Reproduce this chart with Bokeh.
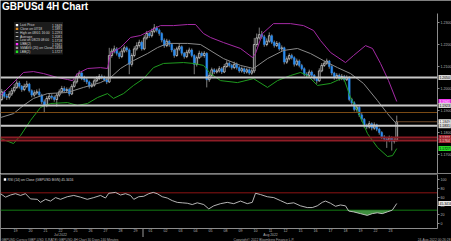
import numpy as np
from bokeh.plotting import figure
from bokeh.layouts import column
from bokeh.models import (Range1d, LinearAxis, FixedTicker, Label, BoxAnnotation,
                          NumeralTickFormatter, ColumnDataSource)
from bokeh.embed import file_html
from bokeh.resources import INLINE

# ---------------- data (4H bars, bar 0 = 18 Jul 2022 00:00) ----------------
bar_open = [
    1.1870, 1.1880, 1.1905, 1.1950, 1.1985, 1.1965,  # Jul 18
    1.1960, 1.1975, 1.1990, 1.2005, 1.2025, 1.2010,  # Jul 19
    1.1995, 1.2010, 1.2020, 1.1990, 1.1970, 1.1980,  # Jul 20
    1.1985, 1.1970, 1.1940, 1.1925, 1.1955, 1.1965,  # Jul 21
    1.1960, 1.1950, 1.1970, 1.1985, 1.2000, 1.1990,  # Jul 22
    1.1995, 1.1975, 1.2010, 1.2030, 1.2055, 1.2070,  # Jul 25
    1.2045, 1.2040, 1.2030, 1.2010, 1.2015, 1.2035,  # Jul 26
    1.2045, 1.2055, 1.2050, 1.2040, 1.2030, 1.2150,  # Jul 27
    1.2170, 1.2180, 1.2160, 1.2145, 1.2170, 1.2185,  # Jul 28
    1.2175, 1.2110, 1.2150, 1.2180, 1.2195, 1.2210,  # Jul 29
    1.2180, 1.2230, 1.2250, 1.2240, 1.2260, 1.2275,  # Aug 1
    1.2265, 1.2250, 1.2220, 1.2195, 1.2215, 1.2200,  # Aug 2
    1.2175, 1.2150, 1.2180, 1.2190, 1.2160, 1.2145,  # Aug 3
    1.2165, 1.2175, 1.2150, 1.2110, 1.2140, 1.2160,  # Aug 4
    1.2150, 1.2160, 1.2040, 1.2060, 1.2085, 1.2075,  # Aug 5
    1.2080, 1.2090, 1.2075, 1.2100, 1.2115, 1.2105,  # Aug 8
    1.2095, 1.2110, 1.2095, 1.2080, 1.2090, 1.2075,  # Aug 9
    1.2085, 1.2070, 1.2080, 1.2200, 1.2230, 1.2245,  # Aug 10
    1.2235, 1.2200, 1.2215, 1.2240, 1.2210, 1.2195,  # Aug 11
    1.2205, 1.2180, 1.2185, 1.2120, 1.2135, 1.2150,  # Aug 12
    1.2140, 1.2110, 1.2125, 1.2105, 1.2090, 1.2065,  # Aug 15
    1.2060, 1.2075, 1.2060, 1.2045, 1.2035, 1.2080,  # Aug 16
    1.2105, 1.2115, 1.2125, 1.2100, 1.2070, 1.2050,  # Aug 17
    1.2060, 1.2045, 1.2055, 1.2040, 1.2050, 1.1950,  # Aug 18
    1.1935, 1.1905, 1.1915, 1.1880, 1.1860, 1.1830,  # Aug 19
    1.1825, 1.1840, 1.1820, 1.1835, 1.1815, 1.1800,  # Aug 22
    1.1780, 1.1770, 1.1765, 1.1775, 1.1760, 1.1765,  # Aug 23
]
bar_close = [
    1.1880, 1.1905, 1.1950, 1.1985, 1.1965, 1.1960,
    1.1975, 1.1990, 1.2005, 1.2025, 1.2010, 1.1995,
    1.2010, 1.2020, 1.1990, 1.1970, 1.1980, 1.1985,
    1.1970, 1.1940, 1.1925, 1.1955, 1.1965, 1.1960,
    1.1950, 1.1970, 1.1985, 1.2000, 1.1990, 1.1995,
    1.1975, 1.2010, 1.2030, 1.2055, 1.2070, 1.2045,
    1.2040, 1.2030, 1.2010, 1.2015, 1.2035, 1.2045,
    1.2055, 1.2050, 1.2040, 1.2030, 1.2150, 1.2170,
    1.2180, 1.2160, 1.2145, 1.2170, 1.2185, 1.2175,
    1.2110, 1.2150, 1.2180, 1.2195, 1.2210, 1.2180,
    1.2230, 1.2250, 1.2240, 1.2260, 1.2275, 1.2265,
    1.2250, 1.2220, 1.2195, 1.2215, 1.2200, 1.2175,
    1.2150, 1.2180, 1.2190, 1.2160, 1.2145, 1.2165,
    1.2175, 1.2150, 1.2110, 1.2140, 1.2160, 1.2150,
    1.2160, 1.2040, 1.2060, 1.2085, 1.2075, 1.2080,
    1.2090, 1.2075, 1.2100, 1.2115, 1.2105, 1.2095,
    1.2110, 1.2095, 1.2080, 1.2090, 1.2075, 1.2085,
    1.2070, 1.2080, 1.2200, 1.2230, 1.2245, 1.2235,
    1.2200, 1.2215, 1.2240, 1.2210, 1.2195, 1.2205,
    1.2180, 1.2185, 1.2120, 1.2135, 1.2150, 1.2140,
    1.2110, 1.2125, 1.2105, 1.2090, 1.2065, 1.2060,
    1.2075, 1.2060, 1.2045, 1.2035, 1.2080, 1.2105,
    1.2115, 1.2125, 1.2100, 1.2070, 1.2050, 1.2060,
    1.2045, 1.2055, 1.2040, 1.2050, 1.1950, 1.1935,
    1.1905, 1.1915, 1.1880, 1.1860, 1.1830, 1.1825,
    1.1840, 1.1820, 1.1835, 1.1815, 1.1800, 1.1780,
    1.1770, 1.1765, 1.1775, 1.1760, 1.1765, 1.1849,
]
bar_high = [
    1.1895, 1.1915, 1.1962, 1.1998, 1.1992, 1.1975,
    1.1988, 1.2002, 1.2020, 1.2038, 1.2034, 1.2016,
    1.2022, 1.2035, 1.2026, 1.1996, 1.1992, 1.1996,
    1.2000, 1.1976, 1.1950, 1.1966, 1.1978, 1.1974,
    1.1968, 1.1980, 1.1996, 1.2012, 1.2010, 1.2005,
    1.2004, 1.2020, 1.2042, 1.2068, 1.2082, 1.2076,
    1.2058, 1.2048, 1.2036, 1.2026, 1.2046, 1.2056,
    1.2066, 1.2064, 1.2058, 1.2048, 1.2185, 1.2182,
    1.2195, 1.2188, 1.2168, 1.2182, 1.2196, 1.2192,
    1.2182, 1.2160, 1.2192, 1.2210, 1.2222, 1.2218,
    1.2242, 1.2262, 1.2258, 1.2272, 1.2293, 1.2284,
    1.2272, 1.2256, 1.2228, 1.2226, 1.2222, 1.2206,
    1.2182, 1.2190, 1.2202, 1.2196, 1.2166, 1.2176,
    1.2186, 1.2182, 1.2156, 1.2150, 1.2172, 1.2168,
    1.2170, 1.2165, 1.2072, 1.2095, 1.2092, 1.2090,
    1.2102, 1.2098, 1.2112, 1.2128, 1.2124, 1.2112,
    1.2122, 1.2118, 1.2102, 1.2100, 1.2096, 1.2094,
    1.2092, 1.2090, 1.2230, 1.2250, 1.2277, 1.2262,
    1.2244, 1.2228, 1.2255, 1.2246, 1.2218, 1.2216,
    1.2212, 1.2196, 1.2190, 1.2146, 1.2160, 1.2158,
    1.2146, 1.2136, 1.2132, 1.2112, 1.2096, 1.2074,
    1.2086, 1.2082, 1.2066, 1.2052, 1.2092, 1.2116,
    1.2126, 1.2136, 1.2130, 1.2106, 1.2076, 1.2070,
    1.2068, 1.2066, 1.2062, 1.2060, 1.2056, 1.1958,
    1.1942, 1.1926, 1.1920, 1.1888, 1.1866, 1.1840,
    1.1852, 1.1846, 1.1846, 1.1840, 1.1822, 1.1806,
    1.1788, 1.1780, 1.1786, 1.1782, 1.1776, 1.1877,
]
bar_low = [
    1.1860, 1.1872, 1.1898, 1.1942, 1.1955, 1.1948,
    1.1950, 1.1966, 1.1982, 1.1998, 1.2000, 1.1985,
    1.1988, 1.2002, 1.1982, 1.1960, 1.1962, 1.1972,
    1.1962, 1.1930, 1.1890, 1.1915, 1.1946, 1.1950,
    1.1940, 1.1918, 1.1962, 1.1978, 1.1982, 1.1984,
    1.1965, 1.1970, 1.2004, 1.2022, 1.2048, 1.2038,
    1.2030, 1.2020, 1.2000, 1.2004, 1.2008, 1.2028,
    1.2038, 1.2042, 1.2032, 1.2020, 1.2025, 1.2140,
    1.2160, 1.2150, 1.2135, 1.2138, 1.2162, 1.2165,
    1.2065, 1.2100, 1.2142, 1.2172, 1.2186, 1.2172,
    1.2174, 1.2222, 1.2230, 1.2232, 1.2252, 1.2255,
    1.2240, 1.2210, 1.2185, 1.2188, 1.2190, 1.2165,
    1.2140, 1.2144, 1.2172, 1.2150, 1.2136, 1.2138,
    1.2158, 1.2142, 1.2065, 1.2100, 1.2134, 1.2142,
    1.2140, 1.2005, 1.2030, 1.2052, 1.2066, 1.2068,
    1.2072, 1.2066, 1.2070, 1.2094, 1.2096, 1.2086,
    1.2088, 1.2086, 1.2072, 1.2072, 1.2066, 1.2068,
    1.2062, 1.2062, 1.2070, 1.2190, 1.2222, 1.2226,
    1.2190, 1.2192, 1.2208, 1.2202, 1.2186, 1.2188,
    1.2172, 1.2170, 1.2110, 1.2112, 1.2128, 1.2132,
    1.2100, 1.2102, 1.2096, 1.2082, 1.2056, 1.2050,
    1.2052, 1.2050, 1.2036, 1.2022, 1.2030, 1.2074,
    1.2098, 1.2108, 1.2090, 1.2060, 1.2040, 1.2042,
    1.2036, 1.2038, 1.2032, 1.2034, 1.1942, 1.1925,
    1.1896, 1.1895, 1.1870, 1.1850, 1.1820, 1.1815,
    1.1818, 1.1810, 1.1812, 1.1806, 1.1790, 1.1770,
    1.1760, 1.1730, 1.1756, 1.1718, 1.1750, 1.1758,
]

# Bollinger bands (x = bar index)
ubb_x = [2.5, 7.3, 11.7, 15.7, 19.7, 25.3, 29.3, 31.3, 33.3, 37.3, 42.5, 45.3, 46.5, 50.5,
         54.5, 58.5, 62.5, 66.5, 71.7, 77.3, 80.5, 83.7, 86.5, 91.7, 98.5, 103.3, 104.5,
         107.3, 111.7, 118.5, 123.7, 127.7, 130.5, 134.5, 140.5, 143.7, 148.5, 151.3,
         154.5, 157.7, 161]
ubb_y = [1.1968, 1.2023, 1.2073, 1.2077, 1.2068, 1.2050, 1.2041, 1.2036, 1.2068, 1.2091,
         1.2095, 1.2091, 1.2159, 1.2186, 1.2232, 1.2241, 1.2264, 1.2286, 1.2286, 1.2291,
         1.2291, 1.2250, 1.2232, 1.2209, 1.2182, 1.2141, 1.2159, 1.2250, 1.2295, 1.2295,
         1.2286, 1.2264, 1.2218, 1.2164, 1.2118, 1.2150, 1.2195, 1.2182, 1.2114, 1.2036,
         1.1941]
sma_x = [2.5, 7.7, 11.7, 15.7, 21.3, 29.3, 35.7, 42.5, 46.5, 50.5, 55.7, 61.3, 65.3, 69.3,
         77.3, 82.5, 91.7, 98.5, 103.7, 109.3, 115.7, 121.3, 126.5, 131.7, 137.3, 142.5,
         147.7, 153.3, 157.3, 161]
sma_y = [1.1868, 1.1886, 1.1923, 1.1955, 1.1977, 1.1982, 1.2005, 1.2027, 1.2050, 1.2091,
         1.2127, 1.2159, 1.2186, 1.2205, 1.2205, 1.2200, 1.2136, 1.2105, 1.2091, 1.2136,
         1.2173, 1.2182, 1.2159, 1.2127, 1.2095, 1.2068, 1.2023, 1.1945, 1.1886, 1.1838]
lbb_x = [2.5, 4.5, 7.7, 10.5, 14.5, 18.5, 22.5, 29.3, 33.3, 37.3, 41.3, 45.3, 47.7, 51.7,
         55.7, 59.7, 63.7, 67.7, 75.7, 79.7, 83.7, 86.5, 90.5, 97.3, 103.7, 109.3, 113.3,
         118.5, 122.5, 125.3, 129.3, 134.5, 139.7, 142.5, 145.3, 149.3, 153.3, 157.3,
         159.3, 161]
lbb_y = [1.1773, 1.1764, 1.1750, 1.1786, 1.1855, 1.1914, 1.1932, 1.1936, 1.1923, 1.1932,
         1.1959, 1.1977, 1.1955, 1.1977, 1.2014, 1.2045, 1.2095, 1.2114, 1.2118, 1.2114,
         1.2105, 1.2068, 1.2036, 1.2027, 1.2045, 1.2005, 1.2036, 1.2059, 1.2073, 1.2059,
         1.2014, 1.2023, 1.2050, 1.1959, 1.1900, 1.1795, 1.1732, 1.1691, 1.1695, 1.1727]

# RSI(14)
rsi_x = [2.5, 4.5, 6.5, 8.5, 10.5, 12.5, 14.5, 17.2, 18.5, 20.5, 22.5, 24.5, 26.5, 29.2,
         31.8, 34.5, 37.2, 39.8, 42.5, 44.5, 45.8, 48.5, 50.5, 52.5, 54.5, 55.8, 57.8,
         59.8, 61.8, 63.6, 65.2, 67.2, 69.2, 71.2, 73.2, 75.2, 77.2, 79.2, 81.2, 83.8,
         85.8, 87.8, 90.5, 93.2, 95.8, 98.5, 101.2, 103.2, 104.5, 106.5, 109.2, 111.8,
         114.5, 117.2, 119.8, 122.5, 125.2, 127.2, 129.2, 131.2, 132.5, 134.5, 136.5,
         138.5, 140.5, 141.8, 143.8, 146.5, 149.2, 151.2, 153.2, 155.2, 157.2, 159.2, 161]
rsi_y = [68, 60, 65, 68, 64, 68, 56, 55, 48, 55, 51, 59, 55, 61, 64, 60, 55, 59, 64, 58,
         69, 71, 65, 68, 64, 55, 61, 62, 68, 71, 68, 61, 58, 52, 48, 47, 46, 43, 47, 43,
         33, 40, 45, 48, 45, 51, 45, 48, 69, 66, 61, 59, 52, 45, 47, 40, 36, 36, 40, 48,
         51, 46, 39, 42, 40, 28, 26, 22, 18, 22, 24, 22, 26, 30, 45.34]
rsi_last = "45.3416"
rsi_upper, rsi_lower = 70, 30

# horizontal levels
grey_levels = [1.2050, 1.1923, 1.1831]
close_ref_level = 1.1891
red_levels = [1.1777, 1.1764]

price_ticks = [1.17, 1.18, 1.19, 1.20, 1.21, 1.22, 1.23]
rsi_ticks = [0, 20, 40, 60, 80, 100]

day_labels = ["19", "20", "21", "22", "25", "26", "27", "28", "29", "01", "02", "03", "04",
              "05", "08", "09", "10", "11", "12", "15", "16", "17", "18", "19", "22", "23"]
day_ticks = [6 * k + 2.5 for k in range(1, len(day_labels) + 1)]
month_labels = ["Jul 2022", "Aug 2022"]
month_ticks = [26.5, 110.5]
month_break = 59.5

box_prices = [1.2050, 1.1941, 1.1923, 1.1849, 1.1831, 1.1777, 1.1764, 1.1727]
box_texts = ["1.2050", "1.1941", "1.1923", "1.1849", "1.1831", "1.1777", "1.1764", "1.1727"]
box_fill = ["#d4d4d4", "#f03cf0", "#d4d4d4", "#f2f2f2", "#d4d4d4", "#a52a34", "#a52a34", "#27d827"]
box_text = ["#000000", "#ffffff", "#000000", "#000000", "#000000", "#f4d0d0", "#f4d0d0", "#000000"]

legend_names = ["Last Price", "Close on 07/18", "High on 08/01 16:00", "Average",
                "Low on 08/23 08:00", "UBB(2)", "SMAVG (20) on Close", "LBB(2)"]
legend_values = ["1.1849", "1.1891", "1.2293", "1.2081", "1.1718", "1.1941", "1.1838", "1.1727"]
legend_swatch = ["#ffffff", "#e08a1e", "line", "line", "line", "#ff30ff", "#9a9a9a", "#22e022"]

title_text = "GBPUSd 4H Chart"
rsi_legend = "RSI (14) on Close (GBPUSD BGN) 45.3416"
footer_left = "GBPUSD Curncy (GBP-USD X-RATE) GBPUSD 4H Chart 30 Days 240 Minutes"
footer_mid = "Copyright\u00a9 2022 Bloomberg Finance L.P."
footer_right = "24-Aug-2022 00:26:28"

# ---------------- layout constants (pixels) ----------------
FONT = "Liberation Sans"
W = 451
AXIS_PX = 437                       # x pixel of the price / RSI axes
PX_PER_BAR = 2.5
x_start = 2.5
x_end = x_start + W / PX_PER_BAR
axis_x = x_start + AXIS_PX / PX_PER_BAR

MAIN_H = 173
MAIN_TOP = 13                        # pixel where the price axis begins
PX_PER_PRICE = 2200.0
price_at_top_axis = 1.2341
y_top = price_at_top_axis + MAIN_TOP / PX_PER_PRICE
y_bot = price_at_top_axis - (MAIN_H - MAIN_TOP) / PX_PER_PRICE

RSI_H = 68                           # rsi panel spans page y 173..241
RSI_PX = 0.434                       # pixels per RSI point
RSI_ZERO_LOCAL = 49.7                # local pixel of RSI 0
rsi_top = (RSI_ZERO_LOCAL) / RSI_PX
rsi_bot = -(RSI_H - RSI_ZERO_LOCAL) / RSI_PX
def rsi_at_page(Y):                  # data value at page pixel Y
    return (MAIN_H + RSI_ZERO_LOCAL - Y) / RSI_PX

BLUE = "#2b8cf0"
AXIS_C = "#8c8c8c"
TICK_TXT = "#b4b4b4"


def lab(text, x, y, size, color, align="left", bold=False, **kw):
    return Label(x=x, y=y, x_units="screen", y_units="screen", text=text, text_font=FONT,
                 text_font_size=f"{size}px", text_color=color, text_align=align,
                 text_baseline="middle", text_font_style="bold" if bold else "normal", **kw)


def style_axis(ax, size="3.6px"):
    ax.axis_line_color = AXIS_C
    ax.major_tick_line_color = AXIS_C
    ax.minor_tick_line_color = None
    ax.major_tick_out = 2
    ax.major_tick_in = 0
    ax.major_label_text_font = FONT
    ax.major_label_text_font_size = size
    ax.major_label_text_color = TICK_TXT
    ax.major_label_standoff = 1


def box(fig, l, r, t, b, color, h):
    # canvas (top-left origin) coordinates -> frame-relative screen units
    fig.add_layout(BoxAnnotation(left=l, right=r, top=h - t, bottom=h - b,
                                 left_units="screen", right_units="screen",
                                 top_units="screen", bottom_units="screen",
                                 fill_color=color, fill_alpha=1, line_color=None))


# ---------------- main price panel ----------------
p = figure(width=W, height=MAIN_H, x_range=Range1d(x_start, x_end),
           y_range=Range1d(y_bot, y_top), output_backend="svg", toolbar_location=None,
           x_axis_location=None, y_axis_location=None,
           background_fill_color="#000000", border_fill_color="#000000",
           outline_line_color=None, min_border=0)
p.grid.visible = False

o = np.array(bar_open)
c = np.array(bar_close)
idx = np.arange(len(bar_close))
up = c >= o
src_all = ColumnDataSource(dict(x=idx, h=bar_high, l=bar_low))
p.segment(x0="x", y0="h", x1="x", y1="l", source=src_all, line_color="#a0a0a0", line_width=0.8)
src_up = ColumnDataSource(dict(x=idx[up], top=np.maximum(o, c)[up], bottom=np.minimum(o, c)[up]))
src_dn = ColumnDataSource(dict(x=idx[~up], top=np.maximum(o, c)[~up], bottom=np.minimum(o, c)[~up]))
p.vbar(x="x", width=0.7, top="top", bottom="bottom", source=src_up,
       fill_color="#000000", line_color="#cfcfcf", line_width=0.8)
p.vbar(x="x", width=0.7, top="top", bottom="bottom", source=src_dn,
       fill_color=BLUE, line_color=BLUE, line_width=0.5)

p.line(sma_x, sma_y, line_color="#8a8a8a", line_width=1)
p.line(ubb_x, ubb_y, line_color="#a52aa5", line_width=1)
p.line(lbb_x, lbb_y, line_color="#1f9b1f", line_width=1)

n = len(grey_levels)
p.segment(x0=[x_start] * n, y0=grey_levels, x1=[axis_x] * n, y1=grey_levels,
          line_color="#c8c8c8", line_width=2)
p.segment(x0=[x_start], y0=[close_ref_level], x1=[axis_x], y1=[close_ref_level],
          line_color="#7a4a14", line_width=1)
n = len(red_levels)
p.segment(x0=[x_start] * n, y0=red_levels, x1=[axis_x] * n, y1=red_levels,
          line_color="#8e1d26", line_width=2)
p.segment(x0=[idx[-1]], y0=[bar_close[-1]], x1=[axis_x], y1=[bar_close[-1]],
          line_color="#6e4a2a", line_width=1)

ay = LinearAxis(fixed_location=axis_x, ticker=FixedTicker(ticks=price_ticks),
                formatter=NumeralTickFormatter(format="0.0000"),
                bounds=(y_bot, price_at_top_axis))
style_axis(ay)
p.add_layout(ay, "right")

for pr, tx, bg, fg in zip(box_prices, box_texts, box_fill, box_text):
    p.add_layout(Label(x=axis_x, y=pr, x_units="data", y_units="data", text=tx, x_offset=1,
                       text_font=FONT, text_font_size="3.4px", text_color=fg,
                       text_baseline="middle", text_align="left",
                       background_fill_color=bg, padding=1))

p.add_layout(lab(title_text, 1.5, MAIN_H - 6.3, 10, "#ffffff", bold=True))

box(p, 13.5, 62.5, 21.5, 54, "#1c1c1c", MAIN_H)
row_y = [24.6, 28.4, 32.2, 36.0, 39.8, 43.6, 47.4, 51.2]
for Y, name, val, sw in zip(row_y, legend_names, legend_values, legend_swatch):
    if sw == "line":
        box(p, 15.2, 17.8, Y - 0.4, Y + 0.4, "#bdbdbd", MAIN_H)
    else:
        box(p, 15.3, 17.7, Y - 1.2, Y + 1.2, sw, MAIN_H)
    p.add_layout(lab(name, 19.5, MAIN_H - Y, 3.3, "#d2d2d2"))
    p.add_layout(lab(val, 61.5, MAIN_H - Y, 3.3, "#d2d2d2", align="right"))

# ---------------- RSI panel (page y 173..241) ----------------
r = figure(width=W, height=RSI_H, x_range=p.x_range, y_range=Range1d(rsi_bot, rsi_top),
           output_backend="svg", toolbar_location=None, x_axis_location=None,
           y_axis_location=None, background_fill_color="#000000",
           border_fill_color="#000000", outline_line_color=None, min_border=0)
r.grid.visible = False

y_sep = rsi_at_page(173.6)
y_axis_line = rsi_at_page(228)
r.segment(x0=[x_start], y0=[y_sep], x1=[axis_x], y1=[y_sep], line_color="#7c7c7c", line_width=1.2)
r.segment(x0=[x_start, x_start], y0=[rsi_upper, rsi_lower], x1=[axis_x, axis_x],
          y1=[rsi_upper, rsi_lower], line_color=["#8c1414", "#127a12"], line_width=1)
r.varea(x=rsi_x, y1=np.minimum(np.array(rsi_y, dtype=float), rsi_lower), y2=rsi_lower,
        fill_color="#3f8f3f", fill_alpha=1)
r.line(rsi_x, rsi_y, line_color="#c8c8c8", line_width=0.9)

ry = LinearAxis(fixed_location=axis_x, ticker=FixedTicker(ticks=rsi_ticks),
                bounds=(y_axis_line, rsi_at_page(174)))
style_axis(ry)
r.add_layout(ry, "right")

ax = LinearAxis(fixed_location=y_axis_line, ticker=FixedTicker(ticks=day_ticks),
                major_label_overrides={t: s for t, s in zip(day_ticks, day_labels)},
                bounds=(x_start, axis_x))
style_axis(ax, "3.6px")
ax.major_tick_out = 0
ax.major_label_standoff = 0
r.add_layout(ax, "below")

mx = LinearAxis(fixed_location=rsi_at_page(232.3), ticker=FixedTicker(ticks=month_ticks),
                major_label_overrides={t: s for t, s in zip(month_ticks, month_labels)})
style_axis(mx, "3.4px")
mx.axis_line_color = None
mx.major_tick_line_color = None
mx.major_tick_out = 0
mx.major_label_standoff = 0
r.add_layout(mx, "below")

r.segment(x0=[month_break], y0=[y_axis_line], x1=[month_break], y1=[rsi_at_page(236.5)],
          line_color="#9a9a9a", line_width=1)

r.add_layout(Label(x=axis_x, y=float(rsi_last), x_units="data", y_units="data", text=rsi_last,
                   x_offset=1, text_font=FONT, text_font_size="3.4px", text_color="#000000",
                   text_baseline="middle", background_fill_color="#e6e6e6", padding=1))
PAGE_BOTTOM = MAIN_H + RSI_H
box(r, 3.3, 5.7, 177.8 - MAIN_H, 180.2 - MAIN_H, "#ffffff", RSI_H)
r.add_layout(lab(rsi_legend, 7, PAGE_BOTTOM - 179, 3.4, "#d2d2d2"))
r.add_layout(lab(footer_left, 1, PAGE_BOTTOM - 239.2, 3.3, "#a8a8a8"))
r.add_layout(lab(footer_mid, 233, PAGE_BOTTOM - 239.2, 3.3, "#a8a8a8"))
r.add_layout(lab(footer_right, 450, PAGE_BOTTOM - 239.2, 3.3, "#a8a8a8", align="right"))

layout = column(p, r, spacing=0)
open("out.html", "w").write(file_html(layout, INLINE))
